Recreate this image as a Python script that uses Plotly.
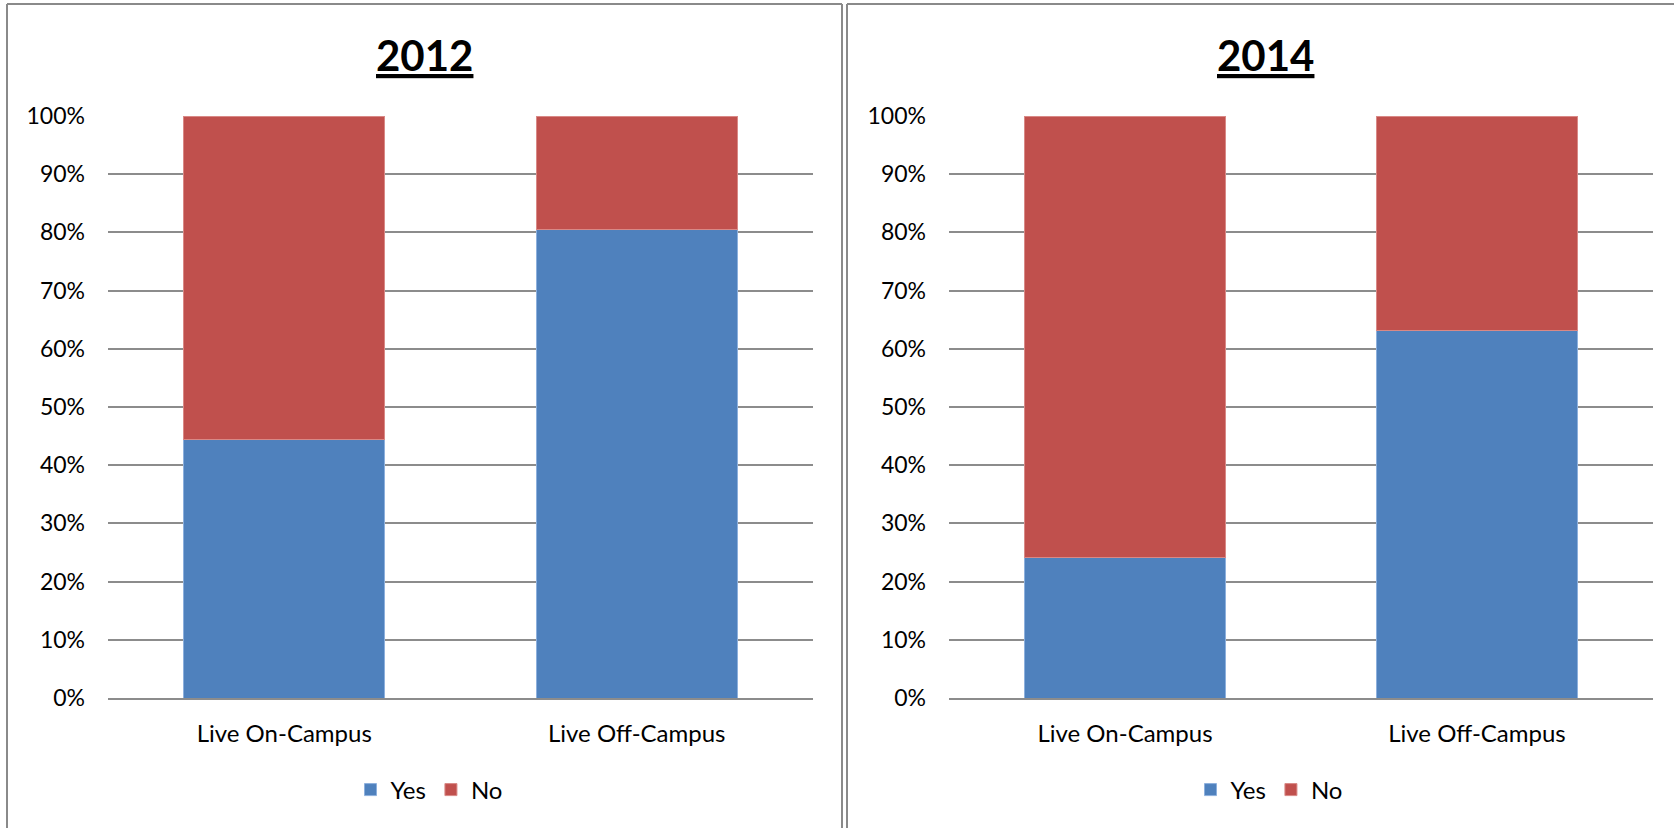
import plotly.graph_objects as go

categories = ["Live On-Campus", "Live Off-Campus"]
yes_2012 = [44.5, 80.5]
no_2012 = [55.5, 19.5]
yes_2014 = [24.2, 63.1]
no_2014 = [75.8, 36.9]
titles = ["2012", "2014"]
tick_vals = list(range(0, 101, 10))
tick_text = [f"{v}%" for v in tick_vals]

W, H = 1674, 828
BLUE = "#4F81BD"
RED = "#C0504D"
GRID = "#8C8C8C"
FONT = "Lato"

def px(x):
    return x / W

def py(y):
    return 1 - y / H

fig = go.Figure()

for i, (yes, no, leg, xa, ya) in enumerate([
    (yes_2012, no_2012, "legend", "x", "y"),
    (yes_2014, no_2014, "legend2", "x2", "y2"),
]):
    fig.add_trace(go.Bar(x=categories, y=yes, name="Yes", marker=dict(color=BLUE, line=dict(color="#8DB0DD", width=1)),
                         xaxis=xa, yaxis=ya, legend=leg))
    fig.add_trace(go.Bar(x=categories, y=no, name="No", marker=dict(color=RED, line=dict(color="#D98986", width=1)),
                         xaxis=xa, yaxis=ya, legend=leg))

yaxis_common = dict(range=[0, 100], tickvals=tick_vals, ticktext=tick_text, showgrid=True,
                    gridcolor=GRID, gridwidth=2, zeroline=False, showline=False,
                    tickfont=dict(family=FONT, size=23, color="#000000"), ticklabelstandoff=22,
                    fixedrange=True, automargin=False)
xaxis_common = dict(showgrid=False, showline=True, linecolor=GRID, linewidth=2,
                    tickfont=dict(family=FONT, size=24, color="#000000"), ticklabelstandoff=13,
                    ticks="", automargin=False, fixedrange=True)

legend_common = dict(orientation="h", y=py(790), yanchor="middle", traceorder="normal",
                     font=dict(family=FONT, size=24, color="#000000"), bgcolor="rgba(0,0,0,0)",
                     itemwidth=30)

fig.update_layout(
    width=W, height=H,
    margin=dict(l=0, r=0, t=0, b=0, pad=0, autoexpand=False),
    paper_bgcolor="white", plot_bgcolor="white",
    barmode="stack", bargap=0.43,
    xaxis=dict(domain=[px(108), px(813)], anchor="y", **xaxis_common),
    yaxis=dict(domain=[py(698), py(116)], anchor="x", **yaxis_common),
    xaxis2=dict(domain=[px(949), px(1653)], anchor="y2", **xaxis_common),
    yaxis2=dict(domain=[py(698), py(116)], anchor="x2", **yaxis_common),
    legend=dict(x=px(429), xanchor="center", **legend_common),
    legend2=dict(x=px(1269), xanchor="center", **legend_common),
    showlegend=True,
)

for t, cx in zip(titles, [424, 1265]):
    fig.add_annotation(text=f"<b><u>{t}</u></b>", x=px(cx), y=py(55), xref="paper", yref="paper",
                       showarrow=False, xanchor="center", yanchor="middle",
                       font=dict(family=FONT, size=42, color="#000000"))

border = dict(color="#8A8A8A", width=2)
# left panel frame
fig.add_shape(type="line", xref="paper", yref="paper", x0=px(7), x1=px(7), y0=py(4), y1=0, line=border)
fig.add_shape(type="line", xref="paper", yref="paper", x0=px(7), x1=px(842), y0=py(4), y1=py(4), line=border)
fig.add_shape(type="line", xref="paper", yref="paper", x0=px(842), x1=px(842), y0=py(4), y1=0, line=border)
# right panel frame
fig.add_shape(type="line", xref="paper", yref="paper", x0=px(847), x1=px(847), y0=py(4), y1=0, line=border)
fig.add_shape(type="line", xref="paper", yref="paper", x0=px(847), x1=1, y0=py(4), y1=py(4), line=border)

fig.write_html("out.html", config={"displayModeBar": False},
               post_script="document.body.style.margin='0';document.body.style.overflow='hidden';")
